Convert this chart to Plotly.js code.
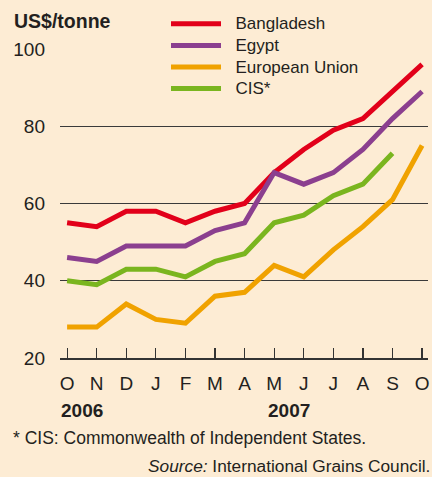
<!DOCTYPE html>
<html>
<head>
<meta charset="utf-8">
<script src="https://cdn.plot.ly/plotly-3.0.1.min.js"></script>
<style>html,body{margin:0;padding:0;background:#fdecd4;}</style>
</head>
<body>
<div id="chart" style="width:432px;height:477px;"></div>
<script>
var months = ["O","N","D","J","F","M","A","M","J","J","A","S","O"];
var bangladesh = [55,54,58,58,55,58,60,68,74,79,82,89,96];
var egypt = [46,45,49,49,49,53,55,68,65,68,74,82,89];
var europeanUnion = [28,28,34,30,29,36,37,44,41,48,54,61,75];
var cis = [40,39,43,43,41,45,47,55,57,62,65,73];
var seriesNames = ["Bangladesh","Egypt","European Union","CIS*"];
var seriesColors = ["#e2001a","#8b3f8f","#f0a200","#7ab51f"];
var yTicks = [20,40,60,80,100];
var years = [{label:"2006", idx:0},{label:"2007", idx:7}];

var FONT = "Liberation Sans, Arial, Helvetica, sans-serif";
var TXT = "#231f20";
var idx = months.map(function(_, i){ return i; });
var data = [bangladesh, egypt, europeanUnion, cis].map(function(vals, k){
  return {
    x: idx.slice(0, vals.length), y: vals, type: "scatter", mode: "lines",
    name: '<span style="font-size:17px">\u00a0\u00a0' + seriesNames[k] + '</span>',
    line: {color: seriesColors[k], width: 5},
    hoverinfo: "skip"
  };
});

var annotations = years.map(function(yr){
  return {text: "<b>" + yr.label + "</b>", xref: "x", yref: "paper", x: yr.idx, xanchor: "left", xshift: -8,
          y: (358-410)/309, yanchor: "middle", showarrow: false, font: {family: FONT, size: 19, color: TXT}};
});
annotations.push({text: "* CIS: Commonwealth of Independent States.", xref: "paper", yref: "paper",
  x: (11-60)/368, xanchor: "left", y: (358-438)/309, yanchor: "middle", showarrow: false,
  font: {family: FONT, size: 17.5, color: TXT}});
annotations.push({text: "<i>Source:</i> International Grains Council.", xref: "paper", yref: "paper",
  x: (432-60)/368, xanchor: "right", y: (358-466)/309, yanchor: "middle", showarrow: false,
  font: {family: FONT, size: 17.3, color: TXT}});

var layout = {
  width: 432, height: 477,
  margin: {l: 60, r: 4, t: 49, b: 119},
  paper_bgcolor: "#fdecd4", plot_bgcolor: "#fdecd4",
  font: {family: FONT, color: TXT},
  title: {text: "<b>US$/tonne</b>", xref: "container", yref: "container", x: 14/432, xanchor: "left",
          y: 1 - 21/477, yanchor: "middle", font: {family: FONT, size: 19.5, color: TXT}},
  showlegend: true,
  legend: {x: (166-60)/368, xanchor: "left", y: (358-8)/309, yanchor: "top",
           bgcolor: "rgba(0,0,0,0)", font: {family: FONT, size: 14.3, color: TXT},
           itemwidth: 50, tracegroupgap: 0},
  xaxis: {range: [-0.24, 12.2], tickmode: "array", tickvals: idx, ticktext: months,
          ticks: "inside", ticklen: 10, tickwidth: 1.2, tickcolor: "#333",
          showline: true, linecolor: "#333", linewidth: 1.5, showgrid: false, zeroline: false,
          tickfont: {family: FONT, size: 19, color: TXT}, ticklabelstandoff: 8, fixedrange: true},
  yaxis: {range: [20, 100], tickmode: "array", tickvals: yTicks, ticks: "",
          showgrid: true, gridcolor: "#3a3a3a", gridwidth: 1.3, showline: false, zeroline: false,
          tickfont: {family: FONT, size: 19, color: TXT}, ticklabelstandoff: 14, fixedrange: true},
  shapes: [{type: "rect", layer: "between", xref: "paper", yref: "paper",
            x0: (164-60)/368, x1: (331-60)/368, y0: 0.98, y1: 1.02,
            fillcolor: "#fdecd4", line: {width: 0}}],
  annotations: annotations
};
Plotly.newPlot("chart", data, layout, {displayModeBar: false, staticPlot: true});
</script>
</body>
</html>
